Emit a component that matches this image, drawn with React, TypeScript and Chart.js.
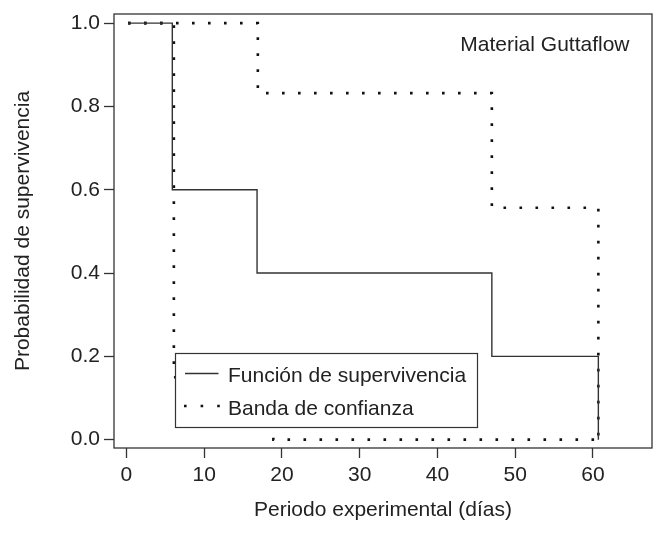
import React, { useEffect, useRef } from "react";
import { Chart, registerables } from "chart.js";

Chart.register(...registerables);

// ---- Data ----
const times = [0.2, 5.9, 16.8, 47.0, 60.7];
const survival = [1.0, 0.6, 0.4, 0.2, 0.0];
const upperTimes = [0.2, 5.9, 16.9, 47.0, 60.7];
const upperBand = [1.0, 1.0, 0.832, 0.557, 0.0];
const lowerTimes = [0.2, 6.1, 18.9, 47.0, 60.7];
const lowerBand = [1.0, 0.15, 0.0, 0.0, 0.0];
const seriesLabels = ["Función de supervivencia", "Banda de confianza"];
const groupLabel = "Material Guttaflow";
const xTitle = "Periodo experimental (días)";
const yTitle = "Probabilidad de supervivencia";
const xRange = [-1.6, 67.6];
const yRange = [-0.02, 1.022];
const xStep = 10;
const yStep = 0.2;

const FONT = '"Liberation Sans", Arial, Helvetica, sans-serif';
const INK = "#222";
const LINE = "#333";
const DOT = "#111";

const toPoints = (xs: number[], ys: number[]) => xs.map((x, i) => ({ x, y: ys[i] }));

const framePlugin = {
  id: "frameAndLegend",
  afterDraw(chart: any) {
    const { ctx, chartArea } = chart;
    const { left, right, top, bottom } = chartArea;
    ctx.save();
    // plot frame
    ctx.strokeStyle = LINE;
    ctx.lineWidth = 1.3;
    ctx.setLineDash([]);
    ctx.strokeRect(left, top, right - left, bottom - top);

    // group label
    ctx.fillStyle = INK;
    ctx.font = `21px ${FONT}`;
    ctx.textAlign = "right";
    ctx.textBaseline = "alphabetic";
    ctx.fillText(groupLabel, right - 22.5, top + 37);

    // legend box
    const lx = 175.5, ly = 353.5, lw = 302, lh = 74;
    ctx.fillStyle = "#fff";
    ctx.fillRect(lx, ly, lw, lh);
    ctx.strokeStyle = LINE;
    ctx.lineWidth = 1.2;
    ctx.strokeRect(lx, ly, lw, lh);

    // solid sample
    ctx.lineWidth = 1.3;
    ctx.beginPath();
    ctx.moveTo(lx + 9.5, 373.5);
    ctx.lineTo(lx + 43, 373.5);
    ctx.stroke();
    // dotted sample
    ctx.strokeStyle = DOT;
    ctx.lineWidth = 2.6;
    ctx.setLineDash([2.6, 14]);
    ctx.beginPath();
    ctx.moveTo(lx + 8.5, 406);
    ctx.lineTo(lx + 46, 406);
    ctx.stroke();
    ctx.setLineDash([]);

    ctx.fillStyle = INK;
    ctx.textAlign = "left";
    ctx.fillText(seriesLabels[0], 228, 381.5);
    ctx.fillText(seriesLabels[1], 228, 415);
    ctx.restore();
  },
};

export default function App() {
  const ref = useRef<HTMLCanvasElement | null>(null);

  useEffect(() => {
    document.body.style.margin = "0";
    const canvas = ref.current;
    if (!canvas) return;
    const tickFont = { family: FONT, size: 21 };
    const chart = new Chart(canvas, {
      type: "line",
      data: {
        datasets: [
          {
            label: seriesLabels[0],
            data: toPoints(times, survival),
            stepped: "before",
            borderColor: LINE,
            borderWidth: 1.4,
            pointRadius: 0,
            fill: false,
          },
          {
            label: seriesLabels[1],
            data: toPoints(upperTimes, upperBand),
            stepped: "before",
            borderColor: DOT,
            borderWidth: 2.6,
            borderDash: [2.6, 13.4],
            pointRadius: 0,
            fill: false,
          },
          {
            label: seriesLabels[1] + " (inferior)",
            data: toPoints(lowerTimes, lowerBand),
            stepped: "before",
            borderColor: DOT,
            borderWidth: 2.6,
            borderDash: [2.6, 13.4],
            pointRadius: 0,
            fill: false,
          },
        ],
      },
      options: {
        responsive: false,
        animation: false,
        events: [],
        layout: { padding: { top: 14, right: 2, left: 0, bottom: 0 } },
        plugins: {
          legend: { display: false },
          tooltip: { enabled: false },
          title: { display: false },
        },
        scales: {
          x: {
            type: "linear",
            min: xRange[0],
            max: xRange[1],
            border: { display: false },
            grid: {
              display: true,
              drawOnChartArea: false,
              drawTicks: true,
              tickLength: 10,
              tickColor: LINE,
              tickWidth: 1.3,
            },
            ticks: {
              stepSize: xStep,
              includeBounds: false,
              autoSkip: false,
              maxRotation: 0,
              padding: 5,
              color: INK,
              font: tickFont,
              callback: (v: any) => String(Math.round(Number(v))),
            },
            title: {
              display: true,
              text: xTitle,
              color: INK,
              font: { family: FONT, size: 21 },
              padding: { top: 0, bottom: 23 },
            },
            afterFit: (s: any) => {
              s.height = 98;
              s.paddingLeft = 0;
              s.paddingRight = 0;
            },
          },
          y: {
            type: "linear",
            min: yRange[0],
            max: yRange[1],
            border: { display: false },
            grid: {
              display: true,
              drawOnChartArea: false,
              drawTicks: true,
              tickLength: 10,
              tickColor: LINE,
              tickWidth: 1.3,
            },
            ticks: {
              stepSize: yStep,
              includeBounds: false,
              autoSkip: false,
              padding: 4,
              color: INK,
              font: tickFont,
              callback: (v: any) => Number(v).toFixed(1),
            },
            title: {
              display: true,
              text: yTitle,
              color: INK,
              font: { family: FONT, size: 21 },
              padding: { top: 11, bottom: 0 },
            },
            afterFit: (s: any) => {
              s.width = 114;
              s.paddingTop = 0;
              s.paddingBottom = 0;
            },
          },
        },
      },
      plugins: [framePlugin],
    } as any);
    return () => chart.destroy();
  }, []);

  return <canvas ref={ref} width={654} height={546} style={{ display: "block" }} />;
}
